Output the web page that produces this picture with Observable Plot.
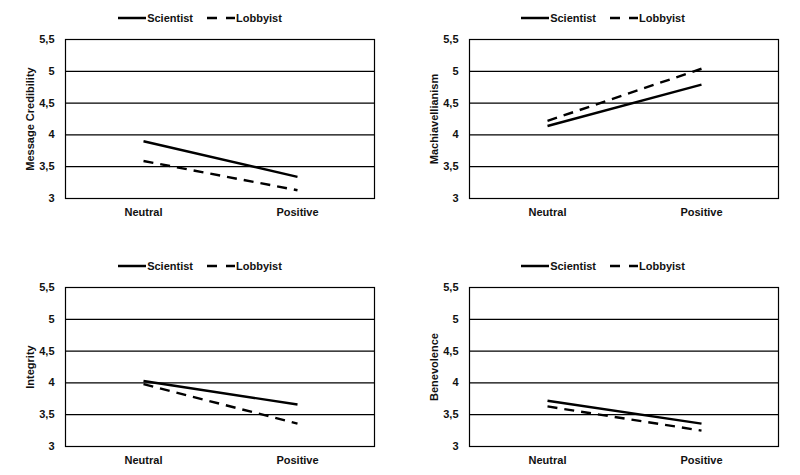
<!DOCTYPE html>
<html>
<head>
<meta charset="utf-8">
<script src="https://cdn.jsdelivr.net/npm/d3@7"></script>
<script src="https://cdn.jsdelivr.net/npm/@observablehq/plot@0.6"></script>
<style>
  html, body { margin: 0; padding: 0; background: #fff; }
  #root { position: relative; width: 800px; height: 475px; font-family: "Liberation Sans", Arial, sans-serif; }
  .panel { position: absolute; width: 400px; height: 236px; }
  .legend { position: absolute; top: 9px; left: 0; width: 400px; height: 18px; display: flex; justify-content: center; align-items: center; font-size: 11px; font-weight: bold; color: #111; }
  .legend .item { display: flex; align-items: center; margin: 0 7px; }
  .legend svg { display: block; margin-right: 1px; }
</style>
</head>
<body>
<div id="root"></div>
<script>
const conditions = ["Neutral", "Positive"];
const sources = ["Scientist", "Lobbyist"];
const yTicks = [3, 3.5, 4, 4.5, 5, 5.5];
const yTickLabels = ["3", "3,5", "4", "4,5", "5", "5,5"];
const panelTitles = ["Message Credibility", "Machiavellianism", "Integrity", "Benevolence"];
const scientistValues = [
  [3.90, 3.34],
  [4.14, 4.79],
  [4.03, 3.66],
  [3.72, 3.36]
];
const lobbyistValues = [
  [3.59, 3.13],
  [4.22, 5.04],
  [3.98, 3.36],
  [3.63, 3.25]
];
const dashes = {Scientist: null, Lobbyist: "10,7"};

const root = document.getElementById("root");
const positions = [
  {left: 0, top: 0, ml: 65, mr: 26, lx: 0},
  {left: 400, top: 0, ml: 69, mr: 22, lx: 3},
  {left: 0, top: 248, ml: 65, mr: 26, lx: 0},
  {left: 400, top: 248, ml: 69, mr: 22, lx: 3}
];

panelTitles.forEach((title, i) => {
  const pos = positions[i];
  const panel = document.createElement("div");
  panel.className = "panel";
  panel.style.left = pos.left + "px";
  panel.style.top = pos.top + "px";

  const legend = document.createElement("div");
  legend.className = "legend";
  legend.style.left = pos.lx + "px";
  sources.forEach(s => {
    const item = document.createElement("div");
    item.className = "item";
    const sw = d3.create("svg").attr("width", 28).attr("height", 10);
    sw.append("line").attr("x1", 0).attr("x2", 28).attr("y1", 5).attr("y2", 5)
      .attr("stroke", "#000").attr("stroke-width", 2.5)
      .attr("stroke-dasharray", s === "Lobbyist" ? "10,9" : null);
    item.appendChild(sw.node());
    const t = document.createElement("span");
    t.textContent = s;
    item.appendChild(t);
    legend.appendChild(item);
  });
  panel.appendChild(legend);

  const data = [];
  conditions.forEach((c, j) => {
    data.push({condition: c, source: "Scientist", value: scientistValues[i][j]});
    data.push({condition: c, source: "Lobbyist", value: lobbyistValues[i][j]});
  });

  const chart = Plot.plot({
    width: 400,
    height: 200,
    marginLeft: pos.ml,
    marginRight: pos.mr,
    marginTop: 11,
    marginBottom: 30,
    style: {fontFamily: "'Liberation Sans', Arial, sans-serif", fontSize: "11px", fontWeight: "bold", color: "#111", background: "transparent", overflow: "visible"},
    x: {type: "point", domain: conditions, padding: 0.5, label: null},
    y: {domain: [3, 5.5], label: null},
    marks: [
      Plot.ruleY(yTicks, {stroke: "#000", strokeWidth: 1.2}),
      Plot.frame({stroke: "#000", strokeWidth: 1.2}),
      Plot.axisY(yTicks, {tickSize: 0, tickPadding: 11, tickFormat: (d) => yTickLabels[yTicks.indexOf(d)], label: null}),
      Plot.axisX({tickSize: 0, tickPadding: 10, label: null}),
      Plot.text([title], {frameAnchor: "left", rotate: -90, dx: -35, textAnchor: "middle", text: d => d, fontWeight: "bold", fontSize: 11, fill: "#111"}),
      ...sources.map(s => Plot.line(data.filter(d => d.source === s), {
        x: "condition", y: "value", stroke: "#000", strokeWidth: 2.4,
        strokeDasharray: dashes[s], strokeLinecap: "butt"
      }))
    ]
  });
  chart.style.position = "absolute";
  chart.style.top = "28px";
  chart.style.left = "0px";
  panel.appendChild(chart);
  root.appendChild(panel);
});
</script>
</body>
</html>
